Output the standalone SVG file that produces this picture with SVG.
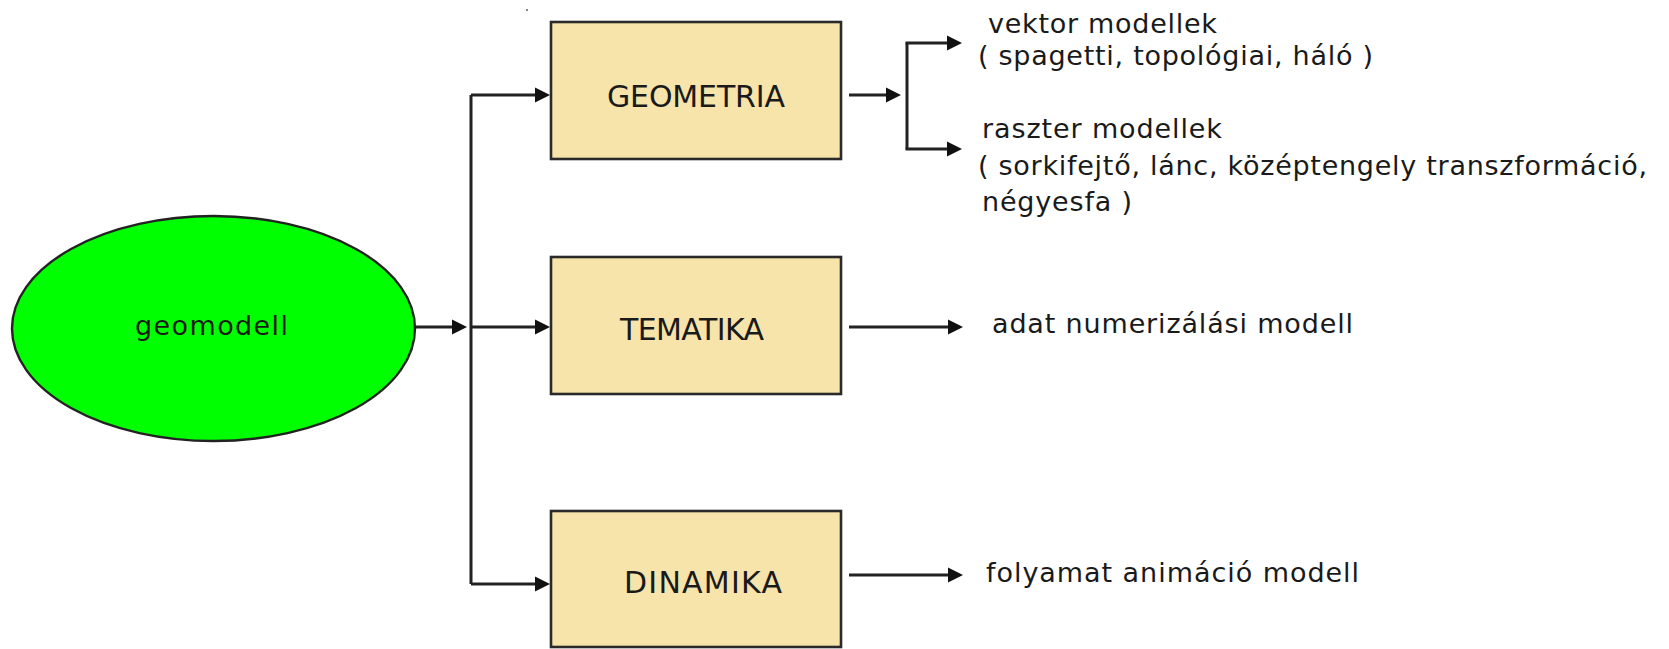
<svg xmlns="http://www.w3.org/2000/svg" width="1669" height="649" viewBox="0 0 1669 649">
  <defs>
    <marker id="ah" markerUnits="userSpaceOnUse" markerWidth="15" markerHeight="18" refX="4" refY="9" orient="auto">
      <path d="M0,1.5 L15,9 L0,16.5 z" fill="#111"/>
    </marker>
    <style>
      .conn { fill: none; stroke: #222; stroke-width: 3; }
      .arr { fill: none; stroke: #222; stroke-width: 3; marker-end: url(#ah); }
      .box { fill: #F7E4AA; stroke: #2a2a2a; stroke-width: 2.6; }
      .ell { fill: #00FF00; stroke: #222; stroke-width: 2.4; }
      .lbl { font-family: "DejaVu Sans", "Liberation Sans", sans-serif; font-size: 30px; fill: #1a1a1a; }
      .txt { font-family: "DejaVu Sans", "Liberation Sans", sans-serif; font-size: 27px; fill: #1a1a1a; }
    </style>
  </defs>
  <rect width="1669" height="649" fill="#ffffff"/>
  <rect x="526" y="9" width="2" height="2" fill="#888"/>

  <g id="connectors">
    <path class="arr" d="M415,327 H456"/>
    <path class="conn" d="M471,95 V584"/>
    <path class="arr" d="M471,95 H539"/>
    <path class="arr" d="M471,327 H539"/>
    <path class="arr" d="M471,584 H539"/>
    <path class="arr" d="M849,95 H890"/>
    <path class="conn" d="M907,43 V149"/>
    <path class="arr" d="M905.5,43 H951"/>
    <path class="arr" d="M905.5,149 H951"/>
    <path class="arr" d="M849,327 H952"/>
    <path class="arr" d="M849,575 H952"/>
  </g>

  <g id="geomodell">
    <ellipse class="ell" cx="213.5" cy="328.5" rx="201.5" ry="112.5"/>
    <text class="txt" x="135" y="335" textLength="153">geomodell</text>
  </g>

  <g id="geometria">
    <rect class="box" x="551" y="22" width="290" height="137"/>
    <text class="lbl" x="607" y="107" textLength="178">GEOMETRIA</text>
  </g>

  <g id="tematika">
    <rect class="box" x="551" y="257" width="290" height="137"/>
    <text class="lbl" x="620" y="340" textLength="144">TEMATIKA</text>
  </g>

  <g id="dinamika">
    <rect class="box" x="551" y="511" width="290" height="136"/>
    <text class="lbl" x="624" y="593" textLength="158">DINAMIKA</text>
  </g>

  <g id="vektor">
    <text class="txt" x="988" y="33" textLength="229">vektor modellek</text>
    <text class="txt" x="978" y="65" textLength="395">( spagetti, topológiai, háló )</text>
  </g>

  <g id="raszter">
    <text class="txt" x="982" y="138" textLength="240">raszter modellek</text>
    <text class="txt" x="978" y="175" textLength="669">( sorkifejtő, lánc, középtengely transzformáció,</text>
    <text class="txt" x="982" y="211" textLength="150">négyesfa )</text>
  </g>

  <g id="adat">
    <text class="txt" x="992" y="333" textLength="361">adat numerizálási modell</text>
  </g>

  <g id="folyamat">
    <text class="txt" x="986" y="582" textLength="373">folyamat animáció modell</text>
  </g>
</svg>
